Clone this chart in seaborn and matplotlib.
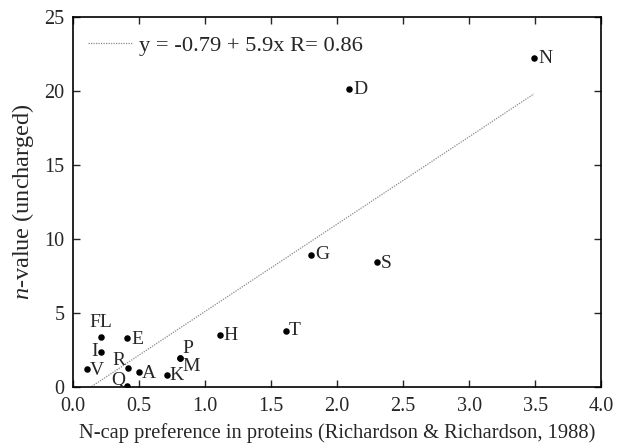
import numpy as np
import pandas as pd
import matplotlib
matplotlib.use("Agg")
import matplotlib.pyplot as plt
import seaborn as sns

residues = ["N", "D", "G", "S", "T", "H", "P", "M", "K", "FL", "E", "I", "V", "R", "A", "Q"]
ncap_pref = [3.49, 2.09, 1.80, 2.30, 1.61, 1.11, 0.81, 0.81, 0.71, 0.21, 0.41, 0.21, 0.11, 0.42, 0.50, 0.41]
n_value = [22.2, 20.1, 8.94, 8.46, 3.8, 3.5, 1.95, 1.95, 0.85, 3.4, 3.3, 2.4, 1.2, 1.3, 1.0, 0.05]
fit_intercept = -0.79
fit_slope = 5.9
fit_r = 0.86

# label offsets in points (dx, dy, ha, va)
label_pos = {
    "N": (3, 0, "left", "center"), "D": (3, 0, "left", "center"),
    "G": (3, 0, "left", "center"), "S": (3, -1, "left", "center"),
    "T": (2, 0, "left", "center"), "H": (3, 0, "left", "center"),
    "P": (2, 7, "left", "center"), "M": (2, -6, "left", "center"),
    "K": (2, -1, "left", "center"), "FL": (0, 10, "center", "center"),
    "E": (3, -1, "left", "center"), "I": (-2, 0, "right", "center"),
    "V": (2, -1, "left", "center"), "R": (-2, 5, "right", "center"),
    "A": (2, -1, "left", "center"), "Q": (-1, 4, "right", "center"),
}

df = pd.DataFrame({"res": residues, "x": ncap_pref, "y": n_value})

sns.set_style("ticks")
plt.rcParams["font.family"] = ["Liberation Serif", "DejaVu Serif"]
plt.rcParams["mathtext.fontset"] = "custom"
plt.rcParams["mathtext.it"] = "Liberation Serif:italic"
plt.rcParams["mathtext.rm"] = "Liberation Serif"

fig, ax = plt.subplots(figsize=(6.18, 4.44), dpi=100)
fig.subplots_adjust(left=0.118, right=0.973, top=0.962, bottom=0.128)

fx = np.array([min(ncap_pref), max(ncap_pref)])
fit_df = pd.DataFrame({"x": fx, "y": fit_intercept + fit_slope * fx})
sns.lineplot(data=fit_df, x="x", y="y", ax=ax, color="#8a8a8a", lw=0.9,
             linestyle=(0, (1, 1)),
             label=f"y = {fit_intercept} + {fit_slope}x R= {fit_r}")

sns.scatterplot(data=df, x="x", y="y", ax=ax, color="black", s=22,
                edgecolor="black", linewidth=0, zorder=3, legend=False)

for r, xv, yv in zip(residues, ncap_pref, n_value):
    dx, dy, ha, va = label_pos[r]
    ax.annotate(r, (xv, yv), xytext=(dx, dy), textcoords="offset points",
                ha=ha, va=va, fontsize=14)

ax.set_xlim(0, 4.0)
ax.set_ylim(0, 25)
ax.set_xticks(np.arange(0, 4.01, 0.5))
ax.set_xticklabels([f"{v:.1f}" for v in np.arange(0, 4.01, 0.5)])
ax.set_yticks(np.arange(0, 26, 5))
ax.tick_params(direction="in", top=True, right=True, length=5, width=1,
               labelsize=14.5)
ax.tick_params(axis="x", pad=7)
ax.tick_params(axis="y", pad=6)
for s in ax.spines.values():
    s.set_linewidth(1.2)
    s.set_color("black")

ax.set_xlabel("N-cap preference in proteins (Richardson & Richardson, 1988)",
              fontsize=14.8, labelpad=5)
ax.set_ylabel("$n$-value (uncharged)", fontsize=17.5, labelpad=6)

leg = ax.legend(loc="upper left", frameon=False, fontsize=16.2,
                handlelength=2.0, handletextpad=0.3, borderpad=0,
                borderaxespad=0, bbox_to_anchor=(0.028, 0.95))

fig.savefig("out.png", dpi=100)
